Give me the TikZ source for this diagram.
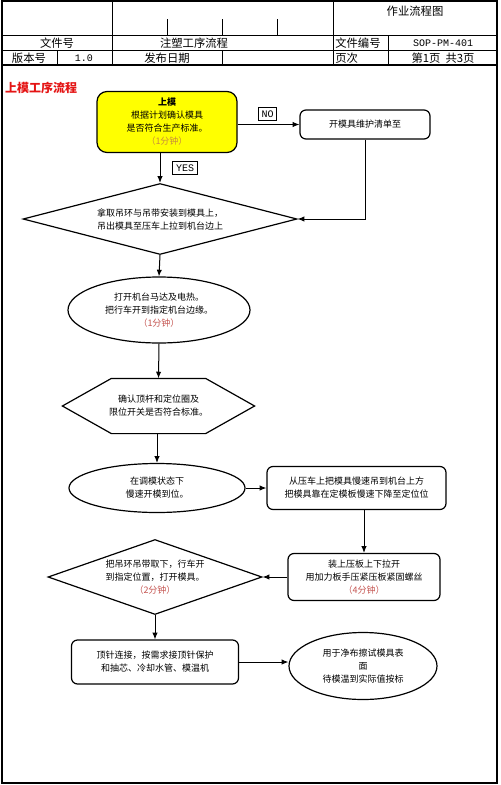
\documentclass[tikz,border=0pt]{standalone}
\usepackage{fontspec}
\setmainfont{Noto Sans CJK SC}
\newfontfamily\latinmono{Liberation Mono}
\usepackage{color}
\usetikzlibrary{shapes.geometric,arrows.meta}
\definecolor{boxyellow}{RGB}{255,255,0}
\definecolor{timered}{RGB}{196,84,80}
\definecolor{timeorange}{RGB}{200,140,60}
\definecolor{titlered}{RGB}{228,20,20}

\begin{document}
\begin{tikzpicture}[x=0.75pt,y=0.75pt,yscale=-1,xscale=1,
	outerline/.style={line width=1.5pt},
	tableline/.style={line width=0.75pt},
	head/.style={inner sep=0.75pt,font=\fontsize{8.5}{9}\selectfont},
	headmono/.style={inner sep=0.75pt,font=\latinmono\fontsize{7.5}{9}\selectfont},
	flowtext/.style={draw,line width=0.9pt,inner sep=0pt,align=center,font=\fontsize{6.75}{9.75}\selectfont},
	roundbox/.style={flowtext,rectangle,rounded corners=4.5pt},
	oval/.style={flowtext,ellipse},
	choice/.style={flowtext,diamond},
	answertag/.style={draw,line width=0.75pt,inner xsep=2.5pt,inner ysep=2pt,font=\latinmono\fontsize{7.5}{8}\selectfont},
	flow/.style={line width=0.75pt,-{Latex[length=5pt,width=4pt]}}]
		\useasboundingbox (0,0) rectangle (500,785);
		
		%Shape: Rectangle [outer frame]
		\draw [outerline] (2,1) rectangle (497,783);
		%Straight Lines [header rows]
		\draw [tableline] (2,35) -- (497,35);
		\draw [tableline] (2,50) -- (497,50);
		\draw [outerline] (2,65) -- (497,65);
		%Straight Lines [header columns]
		\draw [tableline] (112,1) -- (112,65);
		\draw [tableline] (333,1) -- (333,65);
		\draw [tableline] (388,35) -- (388,65);
		\draw [tableline] (57,50) -- (57,65);
		\draw [tableline] (222,50) -- (222,65);
		\draw [tableline] (167,19) -- (167,35);
		\draw [tableline] (222,19) -- (222,35);
		\draw [tableline] (277,19) -- (277,35);
		
		% Text Node
		\node [head] (chartname) at (415,11) {作业流程图};
		% Text Node
		\node [head] (docno) at (57,43) {文件号};
		% Text Node
		\node [head] (procname) at (194,43) {注塑工序流程};
		% Text Node
		\node [head,anchor=west] (codelabel) at (334,43) {文件编号};
		% Text Node
		\node [headmono] (codeval) at (443,43) {SOP-PM-401};
		% Text Node
		\node [head] (verlabel) at (29,58) {版本号};
		% Text Node
		\node [headmono] (verval) at (84,58) {1.0};
		% Text Node
		\node [head] (datelabel) at (167,58) {发布日期};
		% Text Node
		\node [head,anchor=west] (pagelabel) at (334,58) {页次};
		% Text Node
		\node [head] (pageval) at (443,58) {第1页\ \ 共3页};
		
		% Text Node
		\node [inner sep=0.75pt,text=titlered,font=\bfseries\fontsize{9}{10}\selectfont] (flowtitle) at (41,88) {上模工序流程};
		
		%Shape: Rounded Rectangle
		\node [roundbox,fill=boxyellow,rounded corners=7.5pt,minimum width=105pt,minimum height=45.75pt] (start) at (167,122) {\textbf{上模}\\根据计划确认模具\\是否符合生产标准。\\\textcolor{timeorange}{（1分钟）}};
		%Shape: Rounded Rectangle
		\node [roundbox,minimum width=97.5pt,minimum height=21.75pt] (maint) at (365,124.5) {开模具维护清单至};
		%Shape: Diamond
		\node [choice,shape aspect=3.86,minimum width=205.5pt,minimum height=53.25pt] (lift) at (160,219) {拿取吊环与吊带安装到模具上，\\吊出模具至压车上拉到机台边上};
		%Shape: Ellipse
		\node [oval,minimum width=136.5pt,minimum height=49.5pt] (heat) at (159,310) {打开机台马达及电热。\\把行车开到指定机台边缘。\\\textcolor{timered}{（1分钟）}};
		%Shape: Hexagon
		\node [flowtext,draw=none,minimum width=143.25pt,minimum height=40.5pt] (check) at (158.5,406) {确认顶杆和定位圈及\\限位开关是否符合标准。};
		\draw [line width=0.9pt] (check.west) -- ([xshift=36.75pt]check.north west) -- ([xshift=-36.75pt]check.north east) -- (check.east) -- ([xshift=-36.75pt]check.south east) -- ([xshift=36.75pt]check.south west) -- cycle;
		%Shape: Ellipse
		\node [oval,minimum width=132pt,minimum height=36.75pt] (open) at (157,488) {在调模状态下\\慢速开模到位。};
		%Shape: Rounded Rectangle
		\node [roundbox,minimum width=134.25pt,minimum height=32.25pt] (hoist) at (356.5,488) {从压车上把模具慢速吊到机台上方\\把模具靠在定模板慢速下降至定位位};
		%Shape: Rounded Rectangle
		\node [roundbox,minimum width=114pt,minimum height=35.25pt] (clamp) at (364,577) {装上压板上下拉开\\用加力板手压紧压板紧固螺丝\\\textcolor{timered}{（4分钟）}};
		%Shape: Diamond
		\node [choice,shape aspect=2.85,minimum width=160.5pt,minimum height=56.25pt] (unhook) at (155,577) {把吊环吊带取下，行车开\\到指定位置，打开模具。\\\textcolor{timered}{（2分钟）}};
		%Shape: Rounded Rectangle
		\node [roundbox,minimum width=125.25pt,minimum height=33pt] (eject) at (155,662) {顶针连接，按需求接顶针保护\\和抽芯、冷却水管、模温机};
		%Shape: Ellipse
		\node [oval,minimum width=111pt,minimum height=50.25pt] (wipe) at (363,666) {用于净布擦试模具表\\面\\待模温到实际值按标};
		
		% Text Node
		\node [answertag] (notag) at (267.5,114) {NO};
		% Text Node
		\node [answertag] (yestag) at (185,168) {YES};
		
		%Straight Lines
		\draw [flow] (start.east |- maint.west) -- (maint.west);
		\draw [flow] (maint.south) |- (lift.east);
		\draw [flow] (start.south -| lift.north) -- (lift.north);
		\draw [flow] (lift.south) -- (heat.north);
		\draw [flow] (heat.south) -- (check.north);
		\draw [flow] (check.south -| open.north) -- (open.north);
		\draw [flow] (open.east) -- (hoist.west);
		\draw [flow] (clamp.north |- hoist.south) -- (clamp.north);
		\draw [flow] (clamp.west) -- (unhook.east);
		\draw [flow] (unhook.south) -- (eject.north);
		\draw [flow] (eject.east) -- (wipe.west |- eject.east);
\end{tikzpicture}
\end{document}
